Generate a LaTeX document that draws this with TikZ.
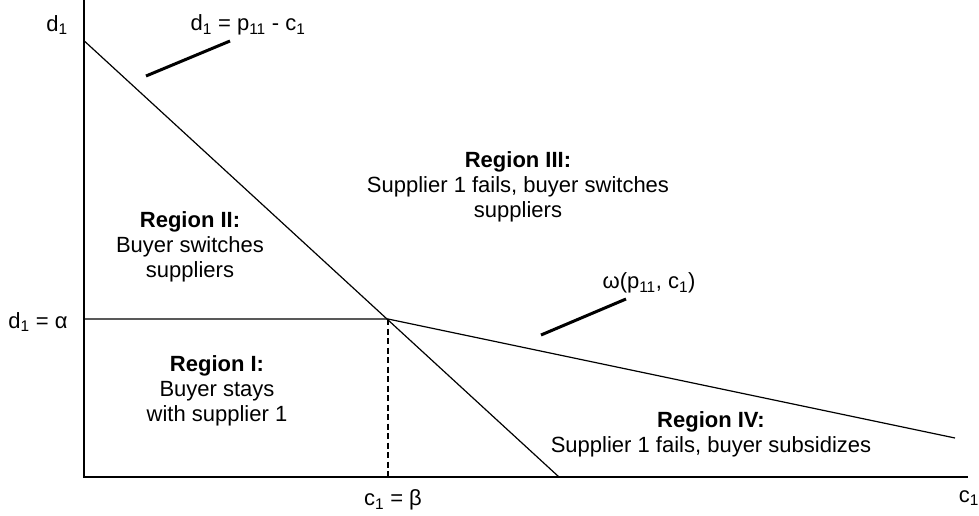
\documentclass[tikz,border=0pt]{standalone}
\usepackage{fontspec}
\setmainfont{Liberation Sans}
\usetikzlibrary{calc}

\begin{document}
\begin{tikzpicture}[x=1pt, y=-1pt,
		lbl/.style={inner sep=0pt, align=center, font=\fontsize{22}{25}\selectfont},
		axis/.style={line width=1.5pt},
		bound/.style={line width=1.2pt},
		pointer/.style={line width=3pt},
		drop/.style={line width=2.5pt, dash pattern=on 6pt off 3.5pt}]
		\useasboundingbox (0,0) rectangle (979,516);

		% axes
		\coordinate (O) at (84,477);
		\coordinate (ytop) at (84,0);
		\coordinate (xend) at (968,477);
		\draw[axis] (ytop) -- (O) -- (xend);

		% boundaries
		\coordinate (dtop) at (84,40.7);
		\coordinate (dbot) at (559,477);
		\coordinate (alpha) at (84,319);
		\coordinate (kink) at (388,319);
		\coordinate (kinkfoot) at (388,477);
		\coordinate (wend) at (955,438);
		\draw[bound] (dtop) -- (dbot);
		\draw[bound] (alpha) -- (kink) -- (wend);
		\draw[drop] (kink) -- (kinkfoot);

		% axis labels
		\node[lbl] (dlab) at (57,25) {d\textsubscript{1}};
		\node[lbl] (clab) at (979,498) [anchor=east] {c\textsubscript{1}};
		\node[lbl] (alab) at (38,322) {d\textsubscript{1} = α};
		\node[lbl] (blab) at (393,500) {c\textsubscript{1} = β};

		% curve labels and pointers
		\node[lbl] (dline) at (248,25) {d\textsubscript{1} = p\textsubscript{11} - c\textsubscript{1}};
		\node[lbl] (wline) at (649,283) {ω(p\textsubscript{11}, c\textsubscript{1})};
		\coordinate (p1a) at (146,76);
		\coordinate (p1b) at (230,41);
		\coordinate (p2a) at (541,335);
		\coordinate (p2b) at (626,299);
		\draw[pointer] (p1a) -- (p1b);
		\draw[pointer] (p2a) -- (p2b);

		% regions
		\node[lbl] (r1) at (217,391) {\textbf{Region I:}\\Buyer stays\\with supplier 1};
		\node[lbl] (r2) at (190,247) {\textbf{Region II:}\\Buyer switches\\suppliers};
		\node[lbl] (r3) at (518,187) {\textbf{Region III:}\\Supplier 1 fails, buyer switches\\suppliers};
		\node[lbl] (r4) at (711,434) {\textbf{Region IV:}\\Supplier 1 fails, buyer subsidizes};
\end{tikzpicture}
\end{document}
